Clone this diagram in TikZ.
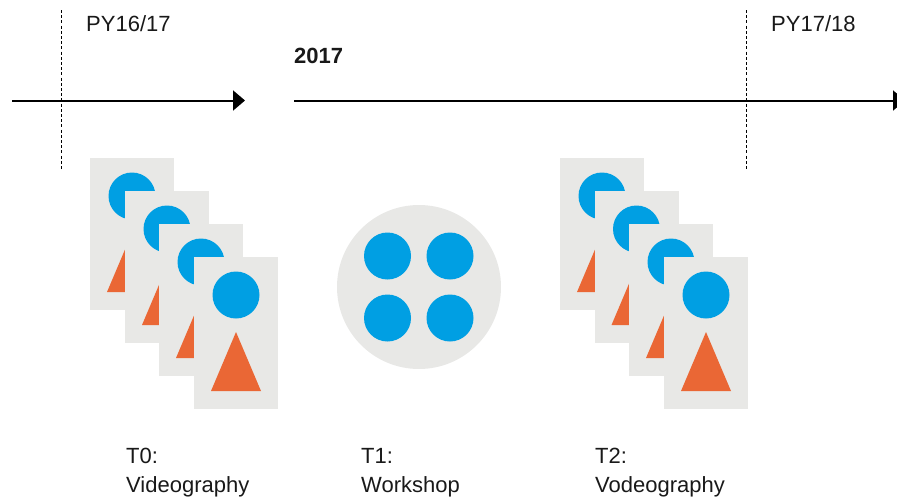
\documentclass[tikz,border=0pt]{standalone}
\usepackage{fontspec}
\setmainfont{Liberation Sans}
\usetikzlibrary{arrows.meta}
\definecolor{cardgrey}{HTML}{E8E8E6}
\definecolor{dotblue}{HTML}{009FE3}
\definecolor{triorange}{HTML}{EA6735}
\tikzset{
  x=1pt,y=-1pt,
  cardbox/.style={fill=cardgrey,draw=none},
  dotc/.style={fill=dotblue,draw=none},
  tri/.style={fill=triorange,draw=none},
  axis/.style={draw=black,line width=2pt,-{Triangle[length=12pt,width=20pt]}},
  boundary/.style={draw=black,line width=0.8pt,dash pattern=on 3pt off 2.2pt},
  lbl/.style={anchor=base west,inner sep=0pt,font=\fontsize{22}{26}\selectfont,text=black!90},
  card/.pic={
    \fill[cardbox] (0,0) rectangle (84,152);
    \fill[dotc] (42,38) circle (23.5);
    \fill[tri] (42,75) -- (67,134) -- (17,134) -- cycle;
  }
}
\begin{document}
\begin{tikzpicture}
\useasboundingbox (0,0) rectangle (897,498);
\clip (0,0) rectangle (897,498);
% cards left
\pic at (90,158) {card};
\pic at (125,191) {card};
\pic at (159,224) {card};
\pic at (194,257) {card};
% cards right
\pic at (560,158) {card};
\pic at (594.5,191) {card};
\pic at (629,224) {card};
\pic at (664,257) {card};
% workshop
\fill[cardbox] (419,287) circle (82);
\fill[dotc] (387.5,256) circle (23.5);
\fill[dotc] (450,256) circle (23.5);
\fill[dotc] (387.5,318) circle (23.5);
\fill[dotc] (450,318) circle (23.5);
% time axes
\coordinate (a1s) at (12,100.5);
\coordinate (a1e) at (245,100.5);
\coordinate (a2s) at (294,100.5);
\coordinate (a2e) at (905,100.5);
\draw[axis] (a1s) -- (a1e);
\draw[axis] (a2s) -- (a2e);
% boundaries
\coordinate (b1t) at (61,10);
\coordinate (b1b) at (61,170);
\coordinate (b2t) at (746.5,10);
\coordinate (b2b) at (746.5,170);
\draw[boundary] (b1t) -- (b1b);
\draw[boundary] (b2t) -- (b2b);
% labels
\node[lbl] (py1) at (86,31) {PY16/17};
\node[lbl] (py2) at (771,31) {PY17/18};
\node[lbl,font=\fontsize{22}{26}\selectfont\bfseries] (yr) at (294,63) {2017};
\node[lbl] (t0) at (126,463) {T0:};
\node[lbl] (t0b) at (126,492) {Videography};
\node[lbl] (t1) at (361,463) {T1:};
\node[lbl] (t1b) at (361,492) {Workshop};
\node[lbl] (t2) at (595,463) {T2:};
\node[lbl] (t2b) at (595,492) {Vodeography};
\end{tikzpicture}
\end{document}
